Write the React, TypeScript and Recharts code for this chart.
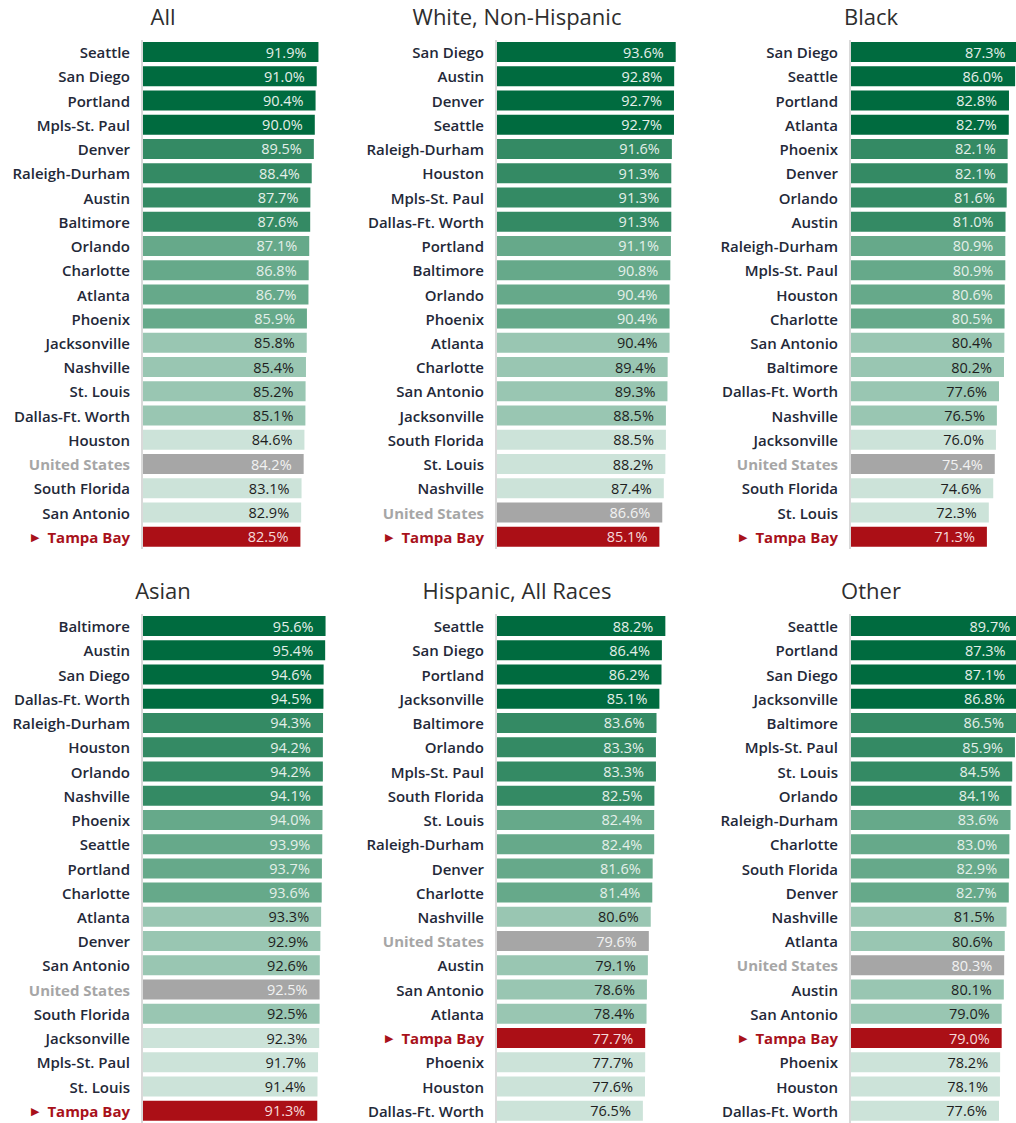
import React from 'react';
import { BarChart, Bar, XAxis, YAxis, Cell, LabelList } from 'recharts';

// ---- data ----
const allCities = ['Seattle', 'San Diego', 'Portland', 'Mpls-St. Paul', 'Denver', 'Raleigh-Durham', 'Austin', 'Baltimore', 'Orlando', 'Charlotte', 'Atlanta', 'Phoenix', 'Jacksonville', 'Nashville', 'St. Louis', 'Dallas-Ft. Worth', 'Houston', 'United States', 'South Florida', 'San Antonio', 'Tampa Bay'];
const allRates = [91.9, 91.0, 90.4, 90.0, 89.5, 88.4, 87.7, 87.6, 87.1, 86.8, 86.7, 85.9, 85.8, 85.4, 85.2, 85.1, 84.6, 84.2, 83.1, 82.9, 82.5];

const whiteCities = ['San Diego', 'Austin', 'Denver', 'Seattle', 'Raleigh-Durham', 'Houston', 'Mpls-St. Paul', 'Dallas-Ft. Worth', 'Portland', 'Baltimore', 'Orlando', 'Phoenix', 'Atlanta', 'Charlotte', 'San Antonio', 'Jacksonville', 'South Florida', 'St. Louis', 'Nashville', 'United States', 'Tampa Bay'];
const whiteRates = [93.6, 92.8, 92.7, 92.7, 91.6, 91.3, 91.3, 91.3, 91.1, 90.8, 90.4, 90.4, 90.4, 89.4, 89.3, 88.5, 88.5, 88.2, 87.4, 86.6, 85.1];

const blackCities = ['San Diego', 'Seattle', 'Portland', 'Atlanta', 'Phoenix', 'Denver', 'Orlando', 'Austin', 'Raleigh-Durham', 'Mpls-St. Paul', 'Houston', 'Charlotte', 'San Antonio', 'Baltimore', 'Dallas-Ft. Worth', 'Nashville', 'Jacksonville', 'United States', 'South Florida', 'St. Louis', 'Tampa Bay'];
const blackRates = [87.3, 86.0, 82.8, 82.7, 82.1, 82.1, 81.6, 81.0, 80.9, 80.9, 80.6, 80.5, 80.4, 80.2, 77.6, 76.5, 76.0, 75.4, 74.6, 72.3, 71.3];

const asianCities = ['Baltimore', 'Austin', 'San Diego', 'Dallas-Ft. Worth', 'Raleigh-Durham', 'Houston', 'Orlando', 'Nashville', 'Phoenix', 'Seattle', 'Portland', 'Charlotte', 'Atlanta', 'Denver', 'San Antonio', 'United States', 'South Florida', 'Jacksonville', 'Mpls-St. Paul', 'St. Louis', 'Tampa Bay'];
const asianRates = [95.6, 95.4, 94.6, 94.5, 94.3, 94.2, 94.2, 94.1, 94.0, 93.9, 93.7, 93.6, 93.3, 92.9, 92.6, 92.5, 92.5, 92.3, 91.7, 91.4, 91.3];

const hispanicCities = ['Seattle', 'San Diego', 'Portland', 'Jacksonville', 'Baltimore', 'Orlando', 'Mpls-St. Paul', 'South Florida', 'St. Louis', 'Raleigh-Durham', 'Denver', 'Charlotte', 'Nashville', 'United States', 'Austin', 'San Antonio', 'Atlanta', 'Tampa Bay', 'Phoenix', 'Houston', 'Dallas-Ft. Worth'];
const hispanicRates = [88.2, 86.4, 86.2, 85.1, 83.6, 83.3, 83.3, 82.5, 82.4, 82.4, 81.6, 81.4, 80.6, 79.6, 79.1, 78.6, 78.4, 77.7, 77.7, 77.6, 76.5];

const otherCities = ['Seattle', 'Portland', 'San Diego', 'Jacksonville', 'Baltimore', 'Mpls-St. Paul', 'St. Louis', 'Orlando', 'Raleigh-Durham', 'Charlotte', 'South Florida', 'Denver', 'Nashville', 'Atlanta', 'United States', 'Austin', 'San Antonio', 'Tampa Bay', 'Phoenix', 'Houston', 'Dallas-Ft. Worth'];
const otherRates = [89.7, 87.3, 87.1, 86.8, 86.5, 85.9, 84.5, 84.1, 83.6, 83.0, 82.9, 82.7, 81.5, 80.6, 80.3, 80.1, 79.0, 79.0, 78.2, 78.1, 77.6];

const panels = [
  { title: 'All', cities: allCities, rates: allRates },
  { title: 'White, Non-Hispanic', cities: whiteCities, rates: whiteRates },
  { title: 'Black', cities: blackCities, rates: blackRates },
  { title: 'Asian', cities: asianCities, rates: asianRates },
  { title: 'Hispanic, All Races', cities: hispanicCities, rates: hispanicRates },
  { title: 'Other', cities: otherCities, rates: otherRates },
];

// ---- styling ----
const US = 'United States';
const TAMPA = 'Tampa Bay';
const FONT = '"Open Sans", "Noto Sans", sans-serif';
const GREENS = ['#006B3F', '#348A64', '#66A98A', '#99C6B2', '#CCE3D9'];
const GRAY = '#A6A6A6';
const RED = '#AB0F16';
const RED_TEXT = '#A8111B';
const LABEL_COLOR = '#232838';

// colour by quintile of rank (US and Tampa Bay left out of the ranking)
function buildRows(cities: string[], rates: number[]) {
  let rank = 0;
  return cities.map((city, i) => {
    let fill: string;
    let labelFill: string;
    if (city === US) {
      fill = GRAY;
      labelFill = '#F2F2F2';
    } else if (city === TAMPA) {
      fill = RED;
      labelFill = '#F5DADB';
    } else {
      const tier = Math.min(4, Math.floor(rank / 4));
      rank++;
      fill = GREENS[tier];
      labelFill = tier < 3 ? '#E4EFE9' : '#1E1E1E';
    }
    return { city, rate: rates[i], fill, labelFill };
  });
}

const CityTick = (props: any) => {
  const { x, y, payload } = props;
  const name = payload.value;
  if (name === TAMPA) {
    return (
      <text x={x} y={y} textAnchor="end" dominantBaseline="central" fontFamily={FONT} fontSize={15} fontWeight={700} fill={RED_TEXT}>
        <tspan fontSize={11} fontFamily="DejaVu Sans">▶</tspan>
        <tspan dx={8}>{name}</tspan>
      </text>
    );
  }
  const isUS = name === US;
  return (
    <text x={x} y={y} textAnchor="end" dominantBaseline="central" fontFamily={FONT} fontSize={15}
      fontWeight={isUS ? 700 : 600} fill={isUS ? GRAY : LABEL_COLOR}>
      {name}
    </text>
  );
};

const Panel = ({ panel, left, top }: any) => {
  const rows = buildRows(panel.cities, panel.rates);

  const ValueLabel = (p: any) => {
    const { x, y, width, height, value, index } = p;
    const row = rows[index];
    return (
      <text x={x + width - 12} y={y + height / 2} textAnchor="end" dominantBaseline="central"
        fontFamily={FONT} fontSize={14.5} fill={row ? row.labelFill : '#fff'}>
        {Number(value).toFixed(1)}%
      </text>
    );
  };

  return (
    <div style={{ position: 'absolute', left, top, width: 354, height: 560 }}>
      <div style={{
        position: 'absolute', left: 13, top: 2, width: 300, textAlign: 'center',
        fontFamily: FONT, fontSize: 22, fontWeight: 500, lineHeight: '28px', color: '#2E2E2E'
      }}>
        {panel.title}
      </div>
      <BarChart width={354} height={560} data={rows} layout="vertical"
        margin={{ top: 40, right: 20, bottom: 11, left: 0 }}>
        <XAxis type="number" domain={[0, 100]} hide />
        <YAxis type="category" dataKey="city" width={142} interval={0}
          axisLine={{ stroke: '#D9D9D9', strokeWidth: 2 }} tickLine={false} tickMargin={6}
          tick={<CityTick />} />
        <Bar dataKey="rate" barSize={20} isAnimationActive={false}>
          {rows.map((r) => <Cell key={r.city} fill={r.fill} />)}
          <LabelList dataKey="rate" content={<ValueLabel />} />
        </Bar>
      </BarChart>
    </div>
  );
}

export default function App() {
  return (
    <div style={{ position: 'absolute', left: 0, top: 0, width: 1016, height: 1123, overflow: 'hidden', background: '#fff' }}>
      {panels.map((p, i) => (
        <Panel key={p.title} panel={p} left={(i % 3) * 354} top={i < 3 ? 0 : 574} />
      ))}
    </div>
  );
}
